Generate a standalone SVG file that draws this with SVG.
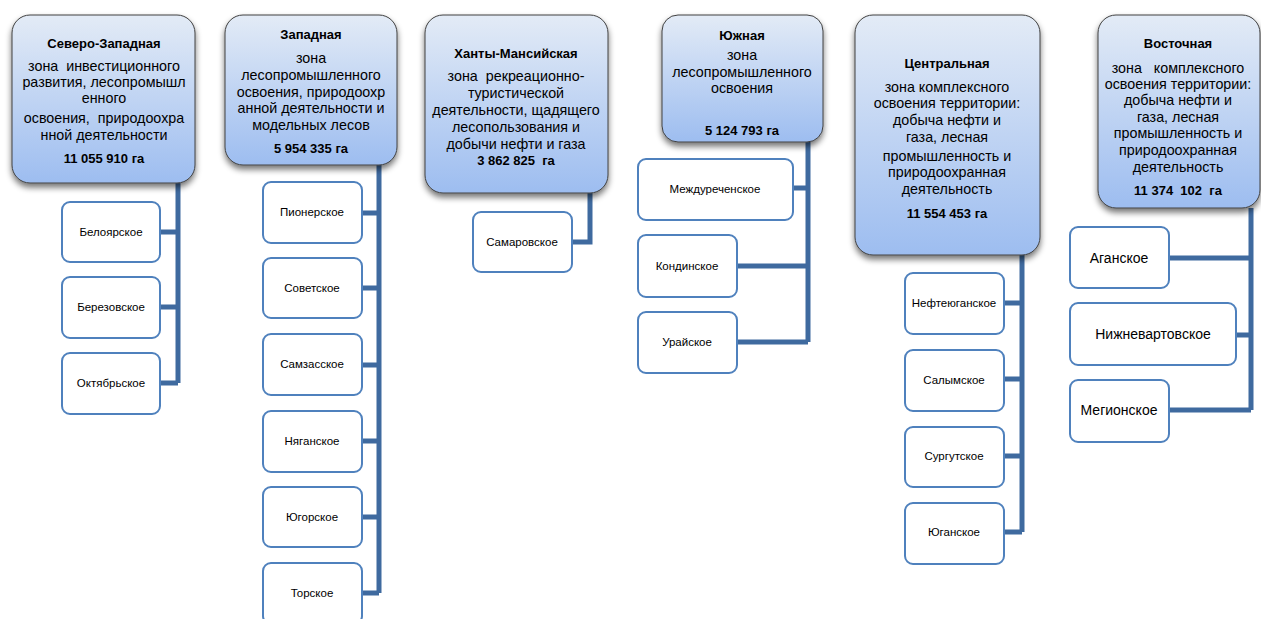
<svg xmlns="http://www.w3.org/2000/svg" width="1261" height="619" viewBox="0 0 1261 619" xml:space="preserve">
<defs>
<linearGradient id="hg" x1="0" y1="0" x2="0" y2="1">
<stop offset="0" stop-color="#e3ebf6"/>
<stop offset="1" stop-color="#9dbdf0"/>
</linearGradient>
<filter id="sh" x="-10%" y="-10%" width="120%" height="125%">
<feGaussianBlur in="SourceAlpha" stdDeviation="3"/>
<feOffset dx="0" dy="4" result="b"/>
<feComponentTransfer><feFuncA type="linear" slope="0.55"/></feComponentTransfer>
<feMerge><feMergeNode/><feMergeNode in="SourceGraphic"/></feMerge>
</filter>
</defs>
<style>
.hd{fill:url(#hg);stroke:#404040;stroke-width:1;filter:url(#sh)}
.ch{fill:#ffffff;stroke:#4f81bd;stroke-width:2}
.t{font-family:"Liberation Sans",Arial,sans-serif;font-size:14.3px;fill:#000;text-anchor:middle;white-space:pre}
.b{font-weight:bold;font-size:13px}
.s{font-family:"Liberation Sans",Arial,sans-serif;font-size:11.5px;fill:#000;text-anchor:middle}
.m{font-family:"Liberation Sans",Arial,sans-serif;font-size:14px;fill:#000;text-anchor:middle}
.c{fill:none;stroke:#3f6a9f;stroke-width:5}
</style>
<rect width="1261" height="619" fill="#ffffff"/>

<g id="connectors">
<path class="c" d="M178 183 V383 M160 232 H178 M160 307 H178 M160 383 H178"/>
<path class="c" d="M379 165 V593 M362 213 H379 M362 288 H379 M362 365 H379 M362 441 H379 M362 517 H379 M362 593 H379"/>
<path class="c" d="M590 193 V242 H572"/>
<path class="c" d="M808 142 V342 M793 188 H808 M737 266 H808 M737 342 H808"/>
<path class="c" d="M1022 255 V532 M1004 303 H1022 M1004 379 H1022 M1004 456 H1022 M1004 532 H1022"/>
<path class="c" d="M1251 208 V410 M1169 258 H1251 M1236 335 H1251 M1169 410 H1251"/>
</g>

<g id="h1">
<rect class="hd" x="12" y="15" width="183" height="168" rx="18"/>
<text class="t b" x="104" y="48">Северо-Западная</text>
<text class="t" x="104" y="71">зона  инвестиционного</text>
<text class="t" x="104" y="87">развития, лесопромышл</text>
<text class="t" x="104" y="103">енного</text>
<text class="t" x="104" y="123">освоения,  природоохра</text>
<text class="t" x="104" y="140">нной деятельности</text>
<text class="t b" x="104" y="163">11 055 910 га</text>
</g>
<g id="c1a"><rect class="ch" x="62" y="202" width="98" height="60" rx="8"/><text class="s" x="111" y="236">Белоярское</text></g>
<g id="c1b"><rect class="ch" x="62" y="277" width="98" height="61" rx="8"/><text class="s" x="111" y="311">Березовское</text></g>
<g id="c1c"><rect class="ch" x="62" y="353" width="98" height="61" rx="8"/><text class="s" x="111" y="387">Октябрьское</text></g>

<g id="h2">
<rect class="hd" x="225" y="15" width="172" height="150" rx="18"/>
<text class="t b" x="311" y="39">Западная</text>
<text class="t" x="311" y="63">зона</text>
<text class="t" x="311" y="80">лесопромышленного</text>
<text class="t" x="311" y="97">освоения, природоохр</text>
<text class="t" x="311" y="113">анной деятельности и</text>
<text class="t" x="311" y="130">модельных лесов</text>
<text class="t b" x="311" y="153">5 954 335 га</text>
</g>
<g id="c2a"><rect class="ch" x="263" y="182" width="99" height="61" rx="8"/><text class="s" x="312" y="216">Пионерское</text></g>
<g id="c2b"><rect class="ch" x="263" y="258" width="99" height="60" rx="8"/><text class="s" x="312" y="292">Советское</text></g>
<g id="c2c"><rect class="ch" x="263" y="334" width="99" height="61" rx="8"/><text class="s" x="312" y="368">Самзасское</text></g>
<g id="c2d"><rect class="ch" x="263" y="411" width="99" height="61" rx="8"/><text class="s" x="312" y="445">Няганское</text></g>
<g id="c2e"><rect class="ch" x="263" y="487" width="99" height="60" rx="8"/><text class="s" x="312" y="521">Югорское</text></g>
<g id="c2f"><rect class="ch" x="263" y="563" width="99" height="61" rx="8"/><text class="s" x="312" y="597">Торское</text></g>

<g id="h3">
<rect class="hd" x="425" y="15" width="183" height="178" rx="18"/>
<text class="t b" x="516" y="58">Ханты-Мансийская</text>
<text class="t" x="516" y="81">зона  рекреационно-</text>
<text class="t" x="516" y="98">туристической</text>
<text class="t" x="516" y="115">деятельности, щадящего</text>
<text class="t" x="516" y="132">лесопользования и</text>
<text class="t" x="516" y="149">добычи нефти и газа</text>
<text class="t b" x="516" y="165">3 862 825  га</text>
</g>
<g id="c3a"><rect class="ch" x="473" y="212" width="99" height="60" rx="8"/><text class="s" x="522" y="246">Самаровское</text></g>

<g id="h4">
<rect class="hd" x="662" y="15" width="161" height="127" rx="16"/>
<text class="t b" x="742" y="40">Южная</text>
<text class="t" x="742" y="60">зона</text>
<text class="t" x="742" y="77">лесопромышленного</text>
<text class="t" x="742" y="93">освоения</text>
<text class="t b" x="742" y="135">5 124 793 га</text>
</g>
<g id="c4a"><rect class="ch" x="638" y="159" width="155" height="61" rx="8"/><text class="s" x="715" y="193">Междуреченское</text></g>
<g id="c4b"><rect class="ch" x="638" y="235" width="99" height="62" rx="8"/><text class="s" x="687" y="270">Кондинское</text></g>
<g id="c4c"><rect class="ch" x="638" y="312" width="99" height="61" rx="8"/><text class="s" x="687" y="346">Урайское</text></g>

<g id="h5">
<rect class="hd" x="855" y="15" width="185" height="240" rx="18"/>
<text class="t b" x="947" y="68">Центральная</text>
<text class="t" x="947" y="92">зона комплексного</text>
<text class="t" x="947" y="108">освоения территории:</text>
<text class="t" x="947" y="125">добыча нефти и</text>
<text class="t" x="947" y="142">газа, лесная</text>
<text class="t" x="947" y="161">промышленность и</text>
<text class="t" x="947" y="177">природоохранная</text>
<text class="t" x="947" y="194">деятельность</text>
<text class="t b" x="947" y="218">11 554 453 га</text>
</g>
<g id="c5a"><rect class="ch" x="905" y="273" width="99" height="61" rx="8"/><text class="s" x="954" y="307">Нефтеюганское</text></g>
<g id="c5b"><rect class="ch" x="905" y="350" width="99" height="61" rx="8"/><text class="s" x="954" y="384">Салымское</text></g>
<g id="c5c"><rect class="ch" x="905" y="427" width="99" height="60" rx="8"/><text class="s" x="954" y="460">Сургутское</text></g>
<g id="c5d"><rect class="ch" x="905" y="503" width="99" height="61" rx="8"/><text class="s" x="954" y="536">Юганское</text></g>

<g id="h6">
<rect class="hd" x="1098" y="15" width="162" height="193" rx="18"/>
<text class="t b" x="1178" y="48">Восточная</text>
<text class="t" x="1178" y="73">зона   комплексного</text>
<text class="t" x="1178" y="89">освоения территории:</text>
<text class="t" x="1178" y="105">добыча нефти и</text>
<text class="t" x="1178" y="122">газа, лесная</text>
<text class="t" x="1178" y="138">промышленность и</text>
<text class="t" x="1178" y="155">природоохранная</text>
<text class="t" x="1178" y="172">деятельность</text>
<text class="t b" x="1178" y="195">11 374  102  га</text>
</g>
<g id="c6a"><rect class="ch" x="1070" y="227" width="99" height="61" rx="8"/><text class="m" x="1119" y="263">Аганское</text></g>
<g id="c6b"><rect class="ch" x="1070" y="303" width="166" height="62" rx="8"/><text class="m" x="1153" y="339">Нижневартовское</text></g>
<g id="c6c"><rect class="ch" x="1070" y="380" width="99" height="62" rx="8"/><text class="m" x="1119" y="415">Мегионское</text></g>
</svg>
